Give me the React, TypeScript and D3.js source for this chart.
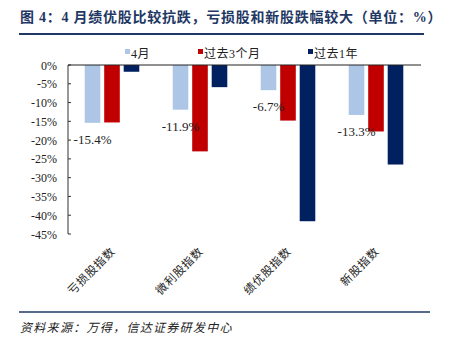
import React from "react";
import * as d3 from "d3";

const categories = ["亏损股指数", "微利股指数", "绩优股指数", "新股指数"];
const seriesNames = ["4月", "过去3个月", "过去1年"];
const aprilValues = [-15.4, -11.9, -6.7, -13.3];
const threeMonthValues = [-15.3, -23.0, -14.8, -17.7];
const oneYearValues = [-1.8, -5.9, -41.6, -26.5];
const yTicks = [0, -5, -10, -15, -20, -25, -30, -35, -40, -45];
const colors = ["#adc6e6", "#c00000", "#002060"];

const W = 451;
const H = 347;
const serif = "'Liberation Serif', 'Times New Roman', 'Noto Sans CJK SC', serif";
const navy = "#1f3864";

export default function App() {
  const seriesValues = [aprilValues, threeMonthValues, oneYearValues];
  const x0 = d3.scaleBand<string>().domain(categories).range([68, 420]).padding(0);
  const x1 = d3
    .scaleBand<string>()
    .domain(seriesNames)
    .range([-29.25, 29.25])
    .paddingInner(0.2)
    .paddingOuter(0.1);
  const y = d3.scaleLinear().domain([0, -45]).range([65, 234]);

  return (
    <svg
      width={W}
      height={H}
      style={{ position: "absolute", left: 0, top: 0, background: "#fff" }}
    >
      {/* title */}
      <text
        x={20}
        y={22}
        fontSize={14}
        fontWeight="bold"
        fill={navy}
        fontFamily={serif}
        letterSpacing={0.75}
      >
        图 4：4 月绩优股比较抗跌，亏损股和新股跌幅较大（单位：%）
      </text>
      <line x1={19} x2={424} y1={34} y2={34} stroke={navy} strokeWidth={2} />

      {/* legend */}
      {seriesNames.map((s, i) => {
        const lx = [125, 198, 308][i];
        return (
          <g key={s}>
            <rect x={lx} y={49} width={5} height={5} fill={colors[i]} />
            <text
              x={lx + 6}
              y={57.5}
              fontSize={12}
              fontFamily={serif}
              fill="#222"
              letterSpacing={0.5}
            >
              {s}
            </text>
          </g>
        );
      })}

      {/* bars */}
      {categories.map((c, ci) => (
        <g key={c} transform={`translate(${x0(c)! + x0.bandwidth() / 2},0)`}>
          {seriesNames.map((s, si) => {
            const v = seriesValues[si][ci];
            return (
              <rect
                key={s}
                x={x1(s)!}
                y={y(0)}
                width={x1.bandwidth()}
                height={y(v) - y(0)}
                fill={colors[si]}
              />
            );
          })}
          <text
            x={x1(seriesNames[0])! + x1.bandwidth() / 2}
            y={y(aprilValues[ci]) + 21}
            textAnchor="middle"
            fontSize={13}
            fontFamily={serif}
            fill="#222"
          >
            {aprilValues[ci].toFixed(1) + "%"}
          </text>
        </g>
      ))}

      {/* y axis */}
      <line x1={68} x2={68} y1={y(0)} y2={y(-45)} stroke="#333" strokeWidth={1} />
      {yTicks.map((t) => (
        <g key={t}>
          <line x1={68} x2={71} y1={y(t)} y2={y(t)} stroke="#333" strokeWidth={1} />
          <text
            x={57}
            y={y(t) + 4.5}
            textAnchor="end"
            fontSize={12}
            fontFamily={serif}
            fill="#222"
          >
            {t + "%"}
          </text>
        </g>
      ))}
      {/* x axis at zero */}
      <line x1={68} x2={421} y1={y(0)} y2={y(0)} stroke="#222" strokeWidth={1} />

      {/* x labels */}
      {categories.map((c) => {
        const cx = x0(c)! + x0.bandwidth() / 2;
        return (
          <text
            key={c}
            transform={`translate(${cx + 4},${252}) rotate(-45)`}
            textAnchor="end"
            fontSize={11.5}
            fontFamily={serif}
            fill="#222"
            letterSpacing={0.8}
          >
            {c}
          </text>
        );
      })}

      {/* bottom line & source */}
      <line x1={19} x2={430} y1={312} y2={312} stroke={navy} strokeWidth={1.5} />
      <text
        x={20}
        y={332}
        fontSize={12}
        fontStyle="italic"
        fontFamily={serif}
        fill="#222"
        letterSpacing={1.3}
      >
        资料来源：万得，信达证券研发中心
      </text>
    </svg>
  );
}
